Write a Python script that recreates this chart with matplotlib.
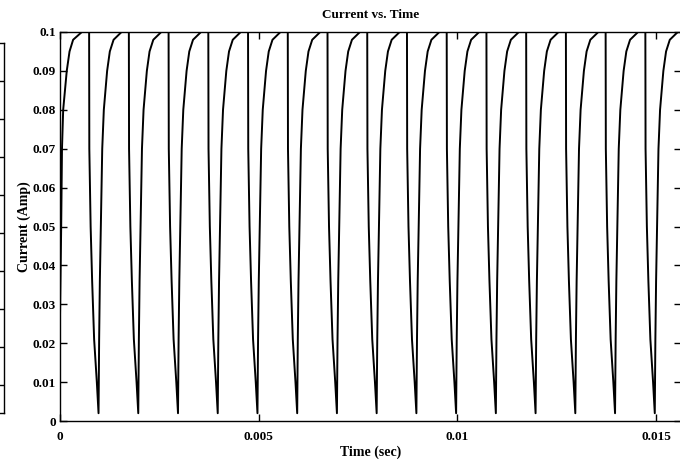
import matplotlib
matplotlib.use("Agg")
import matplotlib.pyplot as plt

# ---- data ----
# opening segment (first rise from t=0)
start_t = [0.0, 0.00003, 0.00005, 0.00008, 0.00017, 0.00024, 0.00033, 0.00055]
start_i = [0.027, 0.05, 0.07, 0.08, 0.09, 0.095, 0.098, 0.1]

# times of the current minima (s)
dip_times = [0.00097, 0.00197, 0.00297, 0.00397, 0.00497, 0.00597, 0.00697,
             0.00797, 0.00897, 0.00997, 0.01097, 0.01197, 0.01297, 0.01397,
             0.01497]

# falling edge before each minimum: offset (s) and current (A)
fall_dt = [-0.000237, -0.000232, -0.000199, -0.000161, -0.000111, -0.000043, 0.0]
fall_i = [0.1, 0.07, 0.05, 0.036, 0.021, 0.01, 0.002]

# rising edge after each minimum: offset (s) and current (A)
rise_dt = [0.0, 0.000015, 0.000033, 0.000058, 0.000093, 0.000133, 0.000216,
           0.000284, 0.000378, 0.000579]
rise_i = [0.002, 0.021, 0.036, 0.05, 0.07, 0.08, 0.09, 0.095, 0.098, 0.1]

x_ticks = [0, 0.005, 0.01, 0.015]
x_tick_labels = ["0", "0.005", "0.01", "0.015"]
y_ticks = [0, 0.01, 0.02, 0.03, 0.04, 0.05, 0.06, 0.07, 0.08, 0.09, 0.1]
y_tick_labels = ["0", "0.01", "0.02", "0.03", "0.04", "0.05", "0.06", "0.07",
                 "0.08", "0.09", "0.1"]

# ---- build series ----
t = list(start_t)
cur = list(start_i)
for d in dip_times:
    t += [d + o for o in fall_dt]
    cur += fall_i
    t += [d + o for o in rise_dt]
    cur += rise_i

plt.rcParams['font.family'] = ['Liberation Serif', 'DejaVu Serif']
plt.rcParams['font.weight'] = 'bold'

W, H = 680, 462
fig = plt.figure(figsize=(W / 100, H / 100), dpi=100)

# main axes (pixel-based placement)
L, R, T, B = 60, 681, 32, 421
ax = fig.add_axes([L / W, 1 - B / H, (R - L) / W, (B - T) / H])
ax.plot(t, cur, color='black', lw=1.4)
ax.set_xlim(0, 0.01563)
ax.set_ylim(0, 0.1)
ax.set_xticks(x_ticks)
ax.set_xticklabels(x_tick_labels)
ax.set_yticks(y_ticks)
ax.set_yticklabels(y_tick_labels)
ax.tick_params(direction='in', length=5, width=1, top=True, right=True,
               labelsize=9.5, colors='black')
ax.tick_params(axis='x', pad=7)
ax.tick_params(axis='y', pad=3)
for lab in ax.get_xticklabels() + ax.get_yticklabels():
    lab.set_fontweight('bold')
for s in ax.spines.values():
    s.set_linewidth(1.0)
ax.set_title("Current vs. Time", fontsize=9.5, fontweight='bold', pad=10)
ax.set_xlabel("Time (sec)", fontsize=10, fontweight='bold')
ax.set_ylabel("Current (Amp)", fontsize=10, fontweight='bold')
ax.xaxis.set_label_coords(0.5, -(452 - B) / (B - T), transform=ax.transAxes)
ax.yaxis.set_label_coords((24 - L) / (R - L), 0.5, transform=ax.transAxes)
ax.xaxis.label.set_verticalalignment('center')
ax.yaxis.label.set_verticalalignment('center')

# fragment of a neighbouring panel at the far left edge
lt, lb, lr = 43, 413, 3.5
ax2 = fig.add_axes([-0.1, 1 - lb / H, 0.1 + lr / W, (lb - lt) / H])
ax2.set_xlim(0, 1)
ax2.set_ylim(0, lb - lt)
ax2.set_xticks([])
ax2.set_yticks([28 + 38 * k for k in range(9)])
ax2.yaxis.tick_right()
ax2.tick_params(axis='y', direction='in', length=4, width=1, labelright=False)
for s in ax2.spines.values():
    s.set_linewidth(1.0)

fig.savefig("out.png", dpi=100)
